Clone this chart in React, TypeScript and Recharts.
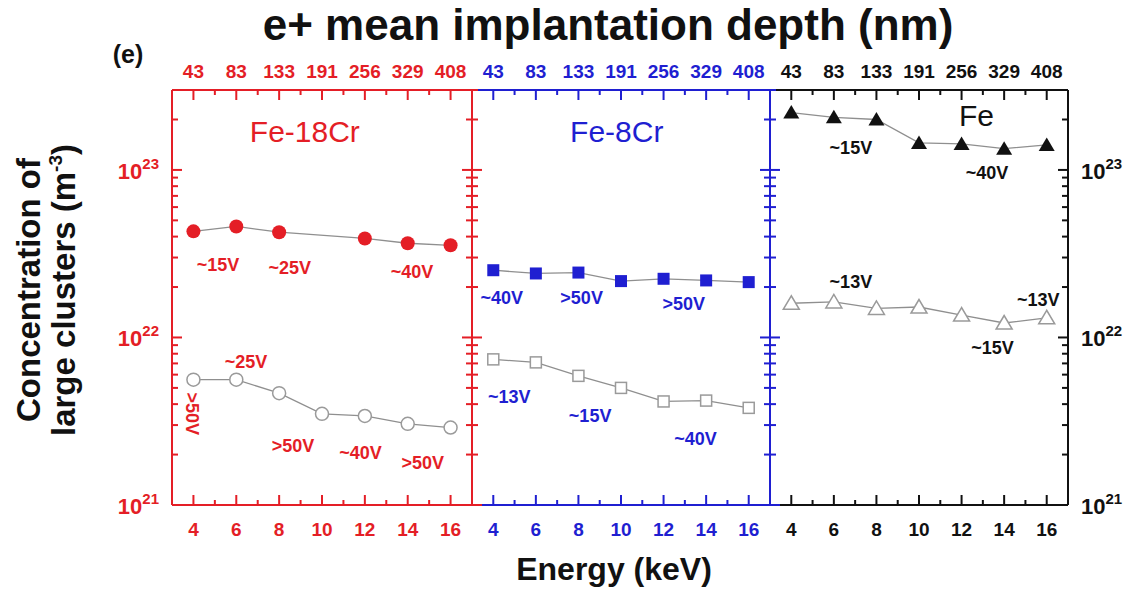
import React from 'react';
import { LineChart, Line, XAxis, YAxis, ReferenceDot } from 'recharts';

// x axis: energy (keV), top axis shows mean implantation depth (nm)
const energies = [4, 6, 8, 10, 12, 14, 16];
const energyTicks = [4, 5, 6, 7, 8, 9, 10, 11, 12, 13, 14, 15, 16];
const depths = ['43', '83', '133', '191', '256', '329', '408'];

// log y axis, decades plus minor ticks
const decades = [1e21, 1e22, 1e23];
const decadeExp = ['21', '22', '23'];
const yTicks = [
  1e21, 2e21, 3e21, 4e21, 5e21, 6e21, 7e21, 8e21, 9e21,
  1e22, 2e22, 3e22, 4e22, 5e22, 6e22, 7e22, 8e22, 9e22,
  1e23, 2e23, 3e23,
];

// concentration of large clusters (m^-3)
const fe18CrFilled = [4.3e22, 4.6e22, 4.25e22, null, 3.9e22, 3.65e22, 3.55e22];
const fe18CrOpen = [5.6e21, 5.6e21, 4.65e21, 3.5e21, 3.4e21, 3.05e21, 2.9e21];
const fe8CrFilled = [2.52e22, 2.41e22, 2.44e22, 2.17e22, 2.24e22, 2.19e22, 2.14e22];
const fe8CrOpen = [7.4e21, 7.1e21, 5.9e21, 5.0e21, 4.15e21, 4.2e21, 3.8e21];
const feFilled = [2.2e23, 2.06e23, 2.0e23, 1.45e23, 1.43e23, 1.34e23, 1.41e23];
const feOpen = [1.6e22, 1.63e22, 1.49e22, 1.52e22, 1.36e22, 1.22e22, 1.31e22];

type Note = { energy: number; value: number; text: string; rotate?: boolean };

const fe18CrNotes: Note[] = [
  { energy: 5.15, value: 2.7e22, text: '~15V' },
  { energy: 8.5, value: 2.59e22, text: '~25V' },
  { energy: 14.2, value: 2.45e22, text: '~40V' },
  { energy: 6.45, value: 7.1e21, text: '~25V' },
  { energy: 3.93, value: 3.5e21, text: '>50V', rotate: true },
  { energy: 8.65, value: 2.25e21, text: '>50V' },
  { energy: 11.8, value: 2.05e21, text: '~40V' },
  { energy: 14.7, value: 1.78e21, text: '>50V' },
];
const fe8CrNotes: Note[] = [
  { energy: 4.4, value: 1.71e22, text: '~40V' },
  { energy: 8.15, value: 1.71e22, text: '>50V' },
  { energy: 12.95, value: 1.58e22, text: '>50V' },
  { energy: 4.75, value: 4.44e21, text: '~13V' },
  { energy: 8.55, value: 3.41e21, text: '~15V' },
  { energy: 13.5, value: 2.48e21, text: '~40V' },
];
const feNotes: Note[] = [
  { energy: 6.8, value: 1.36e23, text: '~15V' },
  { energy: 13.2, value: 9.6e22, text: '~40V' },
  { energy: 6.8, value: 2.13e22, text: '~13V' },
  { energy: 15.6, value: 1.67e22, text: '~13V' },
  { energy: 13.45, value: 8.7e21, text: '~15V' },
];

const RED = '#e41e26';
const BLUE = '#1f1fd1';
const BLACK = '#111111';
const FONT = '"Liberation Sans", Arial, Helvetica, sans-serif';
const AX = 30; // room reserved for each axis

const Marker = (p: any) => {
  const { cx, cy, shape, filled, color, index } = p;
  if (cx == null || cy == null || p.value == null) return <g key={`m${index}`} />;
  const fill = filled ? color : '#fff';
  const stroke = filled ? 'none' : '#9a9a9a';
  if (shape === 'circle') {
    return <circle key={`m${index}`} cx={cx} cy={cy} r={filled ? 7 : 6.5} fill={fill} stroke={stroke} strokeWidth={1.5} />;
  }
  if (shape === 'square') {
    const s = filled ? 12 : 11;
    return <rect key={`m${index}`} x={cx - s / 2} y={cy - s / 2} width={s} height={s} fill={fill} stroke={stroke} strokeWidth={1.5} />;
  }
  return (
    <polygon
      key={`m${index}`}
      points={`${cx},${cy - 7.5} ${cx - 8},${cy + 6} ${cx + 8},${cy + 6}`}
      fill={fill}
      stroke={stroke}
      strokeWidth={1.5}
    />
  );
};

const BottomTick = (p: any) => {
  const v = p.payload.value;
  const major = v % 2 === 0;
  return (
    <g>
      <line x1={p.x} x2={p.x} y1={p.y} y2={p.y - (major ? 10 : 5)} stroke={p.color} strokeWidth={2} />
      {major && (
        <text x={p.x} y={p.y + 31} textAnchor="middle" fill={p.color} fontSize={19} fontWeight="bold" fontFamily={FONT}>
          {v}
        </text>
      )}
    </g>
  );
};

const TopTick = (p: any) => {
  const v = p.payload.value;
  const i = energies.indexOf(v);
  return (
    <g>
      <line x1={p.x} x2={p.x} y1={p.y} y2={p.y + (i >= 0 ? 10 : 5)} stroke={p.color} strokeWidth={2} />
      {i >= 0 && (
        <text x={p.x} y={p.y - 12} textAnchor="middle" fill={p.color} fontSize={19} fontWeight="bold" fontFamily={FONT}>
          {depths[i]}
        </text>
      )}
    </g>
  );
};

const YTick = (p: any) => {
  const v = p.payload.value;
  const i = decades.indexOf(v);
  const len = i >= 0 ? 10 : 6;
  let x1 = p.x;
  let x2 = p.x;
  if (p.mode === 'inLeft') x2 = p.x + len;
  else if (p.mode === 'inRight') x1 = p.x - len;
  else {
    x1 = p.x - len;
    x2 = p.x + len;
  }
  const showLabel = i >= 0 && p.label;
  const lx = p.label === 'left' ? p.x - 13 : p.x + 13;
  return (
    <g>
      <line x1={x1} x2={x2} y1={p.y} y2={p.y} stroke={p.color} strokeWidth={2} />
      {showLabel && (
        <text
          x={lx}
          y={p.y + 9}
          textAnchor={p.label === 'left' ? 'end' : 'start'}
          fill={p.color}
          fontSize={22}
          fontWeight="bold"
          fontFamily={FONT}
        >
          10
          <tspan dy={-10} fontSize={15}>
            {decadeExp[i]}
          </tspan>
        </text>
      )}
    </g>
  );
};

type PanelProps = {
  color: string;
  filled: (number | null)[];
  open: (number | null)[];
  shape: 'circle' | 'square' | 'triangle';
  notes: Note[];
  name: string;
  nameAt: [number, number];
  left: number;
  right: number;
  leftMode: string | null;
  leftLabel: string | null;
  rightMode: string;
  rightLabel: string | null;
};

const Panel = ({ color, filled, open, shape, notes, name, nameAt, left, right, leftMode, leftLabel, rightMode, rightLabel }: PanelProps) => {
  const data = energies.map((e, i) => ({ energy: e, filled: filled[i], open: open[i] }));
  const axisLine = { stroke: color, strokeWidth: 2 };
  return (
    <LineChart
      width={1135}
      height={590}
      data={data}
      margin={{ top: 90 - AX, bottom: 85 - AX, left: left - AX, right: right - AX }}
      style={{ position: 'absolute', left: 0, top: 0 }}
    >
      <XAxis
        xAxisId="b"
        dataKey="energy"
        type="number"
        domain={[3, 17]}
        ticks={energyTicks}
        interval={0}
        height={AX}
        tickSize={0}
        tickMargin={0}
        tickLine={false}
        axisLine={axisLine}
        allowDataOverflow
        tick={(p: any) => <BottomTick {...p} color={color} />}
      />
      <XAxis
        xAxisId="t"
        dataKey="energy"
        orientation="top"
        type="number"
        domain={[3, 17]}
        ticks={energyTicks}
        interval={0}
        height={AX}
        tickSize={0}
        tickMargin={0}
        tickLine={false}
        axisLine={axisLine}
        allowDataOverflow
        tick={(p: any) => <TopTick {...p} color={color} />}
      />
      <YAxis
        yAxisId="l"
        type="number"
        scale="log"
        domain={[1e21, 3e23]}
        ticks={yTicks}
        interval={0}
        width={AX}
        tickSize={0}
        tickMargin={0}
        tickLine={false}
        axisLine={axisLine}
        allowDataOverflow
        tick={leftMode ? (p: any) => <YTick {...p} color={color} mode={leftMode} label={leftLabel} /> : false}
      />
      <YAxis
        yAxisId="r"
        orientation="right"
        type="number"
        scale="log"
        domain={[1e21, 3e23]}
        ticks={yTicks}
        interval={0}
        width={AX}
        tickSize={0}
        tickMargin={0}
        tickLine={false}
        axisLine={axisLine}
        allowDataOverflow
        tick={(p: any) => <YTick {...p} color={color} mode={rightMode} label={rightLabel} />}
      />
      <Line
        xAxisId="b"
        yAxisId="l"
        dataKey="open"
        type="linear"
        stroke="#8f8f8f"
        strokeWidth={1.3}
        connectNulls
        isAnimationActive={false}
        activeDot={false}
        dot={(p: any) => <Marker {...p} shape={shape} filled={false} color={color} />}
      />
      <Line
        xAxisId="b"
        yAxisId="l"
        dataKey="filled"
        type="linear"
        stroke="#8f8f8f"
        strokeWidth={1.3}
        connectNulls
        isAnimationActive={false}
        activeDot={false}
        dot={(p: any) => <Marker {...p} shape={shape} filled color={color} />}
      />
      {notes.map((n, i) => (
        <ReferenceDot
          key={i}
          xAxisId="b"
          yAxisId="l"
          x={n.energy}
          y={n.value}
          r={0}
          ifOverflow="visible"
          shape={(s: any) => (
            <text
              x={s.cx}
              y={s.cy}
              textAnchor="middle"
              dominantBaseline="central"
              fill={color}
              fontSize={18}
              fontWeight="bold"
              fontFamily={FONT}
              transform={n.rotate ? `rotate(90 ${s.cx} ${s.cy})` : undefined}
            >
              {n.text}
            </text>
          )}
        />
      ))}
      <ReferenceDot
        xAxisId="b"
        yAxisId="l"
        x={nameAt[0]}
        y={nameAt[1]}
        r={0}
        ifOverflow="visible"
        shape={(s: any) => (
          <text x={s.cx} y={s.cy} textAnchor="middle" dominantBaseline="central" fill={color} fontSize={30} fontFamily={FONT}>
            {name}
          </text>
        )}
      />
    </LineChart>
  );
};

export default function App() {
  return (
    <div style={{ position: 'absolute', left: 0, top: 0, width: 1135, height: 590, background: '#fff', fontFamily: FONT }}>
      <svg width={1135} height={590} style={{ position: 'absolute', left: 0, top: 0 }}>
        <text x={128} y={63} textAnchor="middle" fontSize={25} fontWeight="bold" fill={BLACK} fontFamily={FONT}>
          (e)
        </text>
        <text x={608} y={40} textAnchor="middle" fontSize={44} fontWeight="bold" fill={BLACK} fontFamily={FONT}>
          e+ mean implantation depth (nm)
        </text>
        <text x={614} y={580} textAnchor="middle" fontSize={32} fontWeight="bold" fill={BLACK} fontFamily={FONT}>
          Energy (keV)
        </text>
        <g transform="translate(40 290) rotate(-90)">
          <text x={0} y={0} textAnchor="middle" fontSize={33} fontWeight="bold" fill={BLACK} fontFamily={FONT}>
            Concentration of
          </text>
          <text x={0} y={35} textAnchor="middle" fontSize={33} fontWeight="bold" fill={BLACK} fontFamily={FONT}>
            large clusters (m
            <tspan dy={-13} fontSize={19}>-3</tspan>
            <tspan dy={13}>)</tspan>
          </text>
        </g>
      </svg>
      <Panel
        color={BLACK}
        filled={feFilled}
        open={feOpen}
        shape="triangle"
        notes={feNotes}
        name="Fe"
        nameAt={[12.7, 2.1e23]}
        left={770}
        right={67}
        leftMode={null}
        leftLabel={null}
        rightMode="inRight"
        rightLabel="right"
      />
      <Panel
        color={BLUE}
        filled={fe8CrFilled}
        open={fe8CrOpen}
        shape="square"
        notes={fe8CrNotes}
        name="Fe-8Cr"
        nameAt={[9.8, 1.69e23]}
        left={472}
        right={365}
        leftMode={null}
        leftLabel={null}
        rightMode="both"
        rightLabel={null}
      />
      <Panel
        color={RED}
        filled={fe18CrFilled}
        open={fe18CrOpen}
        shape="circle"
        notes={fe18CrNotes}
        name="Fe-18Cr"
        nameAt={[9.2, 1.69e23]}
        left={172}
        right={663}
        leftMode="inLeft"
        leftLabel="left"
        rightMode="both"
        rightLabel={null}
      />
    </div>
  );
}
